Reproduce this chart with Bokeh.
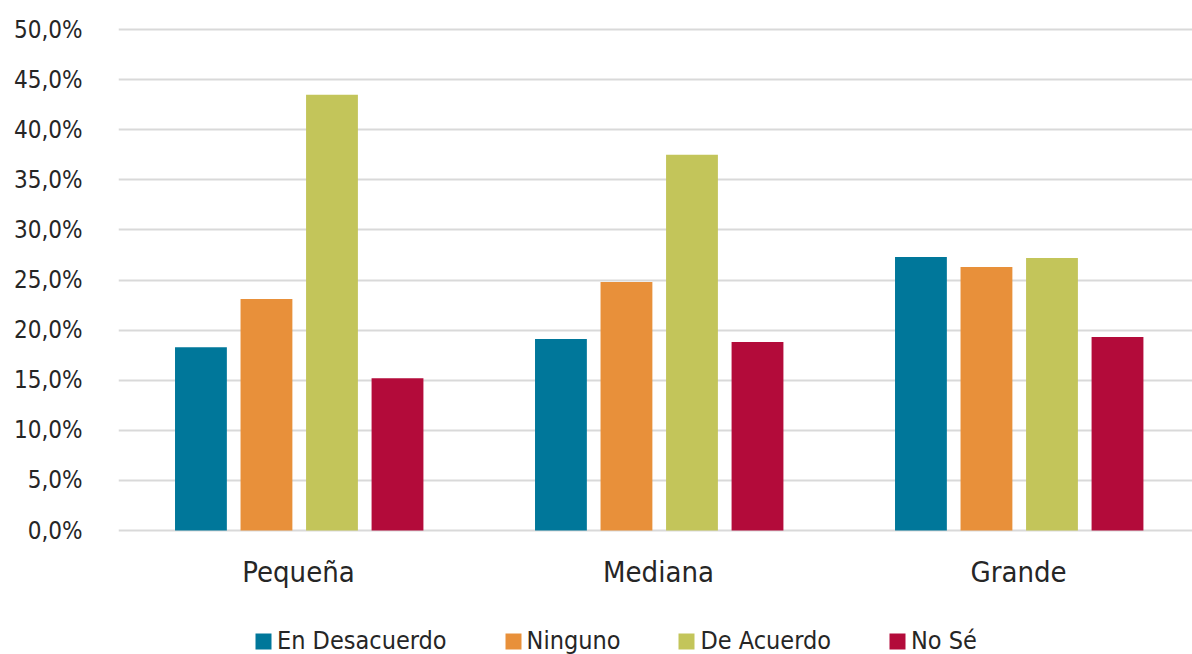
from bokeh.plotting import figure
from bokeh.models import ColumnDataSource, Range1d, Legend, LegendItem, FixedTicker, LinearAxis
from bokeh.transform import dodge
from bokeh.embed import file_html
from bokeh.resources import INLINE

categories = ["Pequeña", "Mediana", "Grande"]
series = ["En Desacuerdo", "Ninguno", "De Acuerdo", "No Sé"]
en_desacuerdo = [18.3, 19.1, 27.3]
ninguno = [23.1, 24.8, 26.3]
de_acuerdo = [43.5, 37.5, 27.2]
no_se = [15.2, 18.8, 19.3]
y_ticks = [0, 5, 10, 15, 20, 25, 30, 35, 40, 45, 50]
y_tick_labels = ["0,0%", "5,0%", "10,0%", "15,0%", "20,0%", "25,0%",
                 "30,0%", "35,0%", "40,0%", "45,0%", "50,0%"]
colors = ["#00779A", "#E8903A", "#C3C55A", "#B30B3A"]

FONT = "DejaVu Sans Condensed"
PX_PER_UNIT = 501 / 50.0
TOP = 27
FRAME_H = 654 - TOP

xpos = [i + 0.5 for i in range(len(categories))]
src = ColumnDataSource(dict(x=xpos, a=en_desacuerdo, b=ninguno, c=de_acuerdo, d=no_se))

y_end = 50 + 2 / PX_PER_UNIT
y_start = y_end - FRAME_H / PX_PER_UNIT

p = figure(width=1192, height=654, output_backend="svg", toolbar_location=None,
           x_range=Range1d(0, (1192 - 118) / 360.0), y_range=Range1d(y_start, y_end),
           x_axis_location=None)
p.min_border_left = 118
p.min_border_right = 0
p.min_border_top = TOP
p.min_border_bottom = 0
p.outline_line_color = None
p.background_fill_color = "white"
p.border_fill_color = "white"

offsets = [-0.271, -0.089, 0.093, 0.275]
keys = ["a", "b", "c", "d"]
renderers = []
for k, off, col in zip(keys, offsets, colors):
    r = p.vbar(x=dodge("x", off, range=p.x_range), top=k, width=0.144, bottom=0,
               source=src, fill_color=col, line_color=None)
    renderers.append(r)

p.xgrid.grid_line_color = None
p.ygrid.grid_line_color = "#D9D9D9"
p.ygrid.grid_line_width = 2
p.ygrid.ticker = FixedTicker(ticks=y_ticks)

p.yaxis.ticker = FixedTicker(ticks=y_ticks)
p.yaxis.major_label_overrides = {t: l for t, l in zip(y_ticks, y_tick_labels)}
p.yaxis.axis_line_color = None
p.yaxis.major_tick_line_color = None
p.yaxis.minor_tick_line_color = None
p.yaxis.major_tick_out = 0
p.yaxis.major_label_standoff = 36
p.yaxis.major_label_text_font = FONT
p.yaxis.major_label_text_font_size = "24px"
p.yaxis.major_label_text_color = "#262626"

xaxis = LinearAxis(fixed_location=0, ticker=FixedTicker(ticks=xpos),
                   major_label_overrides={x: c for x, c in zip(xpos, categories)})
xaxis.axis_line_color = None
xaxis.major_tick_line_color = None
xaxis.minor_tick_line_color = None
xaxis.major_tick_out = 0
xaxis.major_tick_in = 0
xaxis.major_label_standoff = 24
xaxis.major_label_text_font = FONT
xaxis.major_label_text_font_size = "29px"
xaxis.major_label_text_color = "#262626"
p.add_layout(xaxis, "below")

legend = Legend(items=[LegendItem(label=s, renderers=[r]) for s, r in zip(series, renderers)],
                orientation="horizontal", location=(135, -1))
legend.label_text_font = FONT
legend.label_text_font_size = "25px"
legend.label_text_color = "#262626"
legend.glyph_width = 20
legend.glyph_height = 20
legend.label_standoff = 4
legend.spacing = 56
legend.padding = 0
legend.margin = 0
legend.border_line_color = None
legend.background_fill_alpha = 0
p.add_layout(legend, "center")

open("out.html", "w").write(file_html(p, INLINE))
